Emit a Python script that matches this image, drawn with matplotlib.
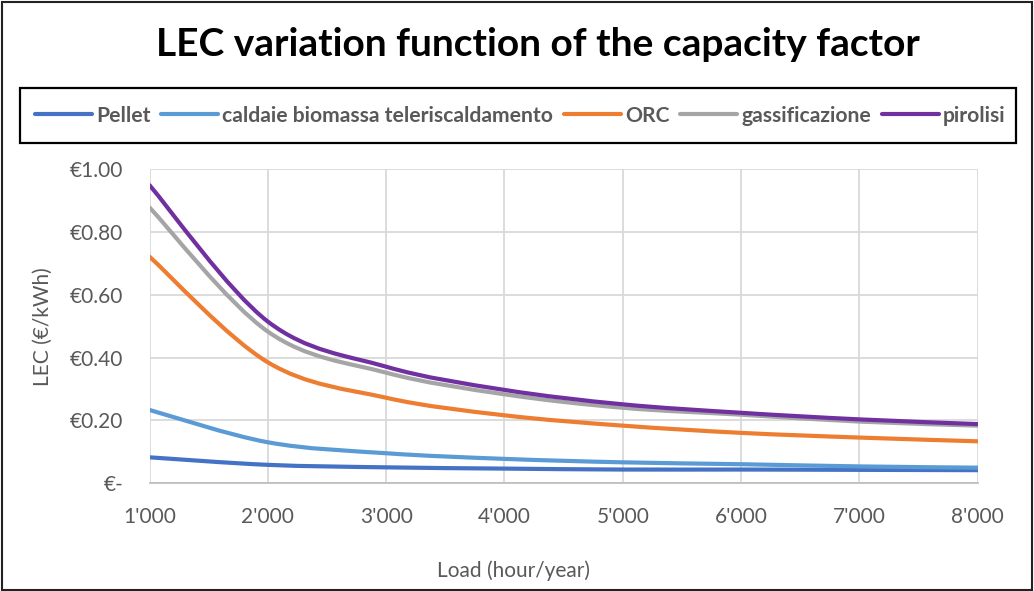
import numpy as np
import matplotlib
matplotlib.use("Agg")
import matplotlib.pyplot as plt
from matplotlib.path import Path
from matplotlib.patches import PathPatch, Rectangle
from matplotlib.lines import Line2D
from matplotlib.ticker import FuncFormatter

plt.rcParams['font.family'] = ['Lato', 'DejaVu Sans']

# Load hours per year (x axis points).
load_hours = [1000, 2000, 3000, 4000, 5000, 6000, 7000, 8000]

# LEC values (EUR/kWh).
pellet = [0.082, 0.058, 0.050, 0.046, 0.043, 0.043, 0.042, 0.041]
caldaie = [0.233, 0.130, 0.095, 0.077, 0.066, 0.060, 0.053, 0.049]
orc = [0.722, 0.385, 0.272, 0.216, 0.183, 0.160, 0.145, 0.133]
gassificazione = [0.879, 0.483, 0.352, 0.283, 0.240, 0.218, 0.196, 0.183]
pirolisi = [0.950, 0.515, 0.371, 0.297, 0.251, 0.224, 0.203, 0.188]

series_names = ["Pellet", "caldaie biomassa teleriscaldamento", "ORC",
                "gassificazione", "pirolisi"]
series_values = [pellet, caldaie, orc, gassificazione, pirolisi]
series_colors = ["#4472C4", "#5B9BD5", "#ED7D31", "#A5A5A5", "#7030A0"]

x_ticks = load_hours
y_ticks = [0.0, 0.2, 0.4, 0.6, 0.8, 1.0]

text_grey = "#595959"


# Smoothed line like Excel: cubic Bezier segments through the data points.
def smooth_path(xs, ys):
    xs = np.asarray(xs, float)
    ys = np.asarray(ys, float)
    n = len(xs)
    verts = [(xs[0], ys[0])]
    codes = [Path.MOVETO]
    for i in range(n - 1):
        i0 = max(i - 1, 0)
        i3 = min(i + 2, n - 1)
        c1 = (xs[i] + (xs[i + 1] - xs[i0]) / 6, ys[i] + (ys[i + 1] - ys[i0]) / 6)
        c2 = (xs[i + 1] - (xs[i3] - xs[i]) / 6, ys[i + 1] - (ys[i3] - ys[i]) / 6)
        verts += [c1, c2, (xs[i + 1], ys[i + 1])]
        codes += [Path.CURVE4] * 3
    return Path(verts, codes)


fig = plt.figure(figsize=(10.34, 5.91), dpi=100)
ax = fig.add_axes([0.1446, 0.1827, 0.801, 0.5305])

handles = []
for name, vals, col in zip(series_names, series_values, series_colors):
    patch = PathPatch(smooth_path(load_hours, vals), fill=False, edgecolor=col,
                      linewidth=3, capstyle='round', zorder=3)
    ax.add_patch(patch)
    handles.append(Line2D([], [], color=col, linewidth=3, solid_capstyle='round'))

ax.set_xlim(1000, 8000)
ax.set_ylim(0, 1.0)
ax.set_xticks(x_ticks)
ax.set_yticks(y_ticks)
ax.xaxis.set_major_formatter(FuncFormatter(lambda v, p: f"{int(v):,}".replace(",", "'")))
ax.yaxis.set_major_formatter(FuncFormatter(lambda v, p: "€-" if v == 0 else f"€{v:.2f}"))
ax.tick_params(length=0, labelsize=15, labelcolor=text_grey)
ax.tick_params(axis='y', pad=19)
ax.tick_params(axis='x', pad=17)
ax.grid(True, color="#d9d9d9", linewidth=1.3)
ax.set_axisbelow(True)
for side in ["top", "right", "left"]:
    ax.spines[side].set_visible(False)
ax.spines["bottom"].set_color("#bfbfbf")
ax.spines["bottom"].set_linewidth(1.3)

ax.set_ylabel("LEC (€/kWh)", fontsize=15, color=text_grey, labelpad=12)
fig.text(0.497, 0.034, "Load (hour/year)", fontsize=15, color=text_grey,
         ha='center', va='center')

fig.text(0.52, 0.924, "LEC variation function of the capacity factor",
         fontsize=28, fontweight='bold', color='black', ha='center', va='center')

# Legend box
fig.patches.append(Rectangle((20 / 1034, 1 - 143 / 591), 996 / 1034, 55 / 591,
                             transform=fig.transFigure, fill=False,
                             edgecolor='black', linewidth=1.6))
fig.legend(handles, series_names, loc='center', bbox_to_anchor=(0.503, 1 - 115.5 / 591),
           ncol=5, frameon=False, prop={'weight': 'bold', 'size': 15.2},
           labelcolor=text_grey, handlelength=2.7, handletextpad=0.2,
           columnspacing=0.5)

# Outer frame
fig.patches.append(Rectangle((0.002, 0.002), 0.996, 0.995, transform=fig.transFigure,
                             fill=False, edgecolor='#222222', linewidth=1.5))

fig.savefig("out.png", dpi=100)
